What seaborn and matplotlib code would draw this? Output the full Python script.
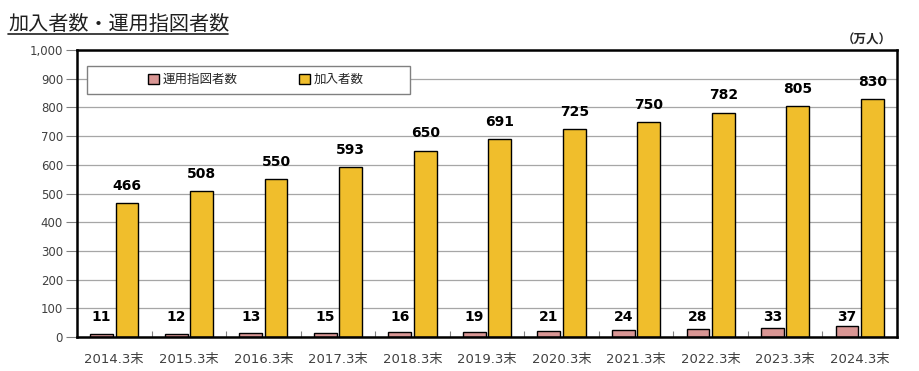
import matplotlib
matplotlib.use("Agg")
import matplotlib.pyplot as plt
import matplotlib.ticker as mticker
from matplotlib.patches import Rectangle
from matplotlib.lines import Line2D
import seaborn as sns
import pandas as pd

periods = ["2014.3末", "2015.3末", "2016.3末", "2017.3末", "2018.3末", "2019.3末",
           "2020.3末", "2021.3末", "2022.3末", "2023.3末", "2024.3末"]
instructed = [11, 12, 13, 15, 16, 19, 21, 24, 28, 33, 37]
members = [466, 508, 550, 593, 650, 691, 725, 750, 782, 805, 830]
series_names = ["運用指図者数", "加入者数"]
colors = ["#D99694", "#F0BE2C"]

df = pd.DataFrame({
    "period": periods * 2,
    "value": instructed + members,
    "series": [series_names[0]] * len(periods) + [series_names[1]] * len(periods),
})

sns.set_style("white")
plt.rcParams["font.family"] = ["DejaVu Sans", "Noto Sans CJK JP"]

fig = plt.figure(figsize=(9.2, 3.71), dpi=100)
ax = fig.add_axes([0.0837, 0.0916, 0.8913, 0.7734])

sns.barplot(data=df, x="period", y="value", hue="series", palette=colors,
            saturation=1, width=0.68, gap=0.1, edgecolor="black", linewidth=1.0,
            legend=False, ax=ax)

ax.set_ylim(0, 1000)
ax.set_xlim(-0.5, len(periods) - 0.5)
ax.yaxis.set_major_locator(mticker.MultipleLocator(100))
ax.yaxis.set_major_formatter(mticker.FuncFormatter(lambda v, p: f"{int(v):,}"))
ax.grid(axis="y", color="#A6A6A6", linewidth=0.9)
ax.set_axisbelow(True)
ax.set_xlabel("")
ax.set_ylabel("")
for s in ax.spines.values():
    s.set_visible(True)
    s.set_color("black")
    s.set_linewidth(1.8)
ax.tick_params(axis="y", left=True, length=8, width=0.8, color="#808080",
               labelsize=8.5, labelcolor="#404040", pad=2)
ax.tick_params(axis="x", bottom=False, labelsize=9.5, labelcolor="#404040", pad=8)

# small category separator ticks
ax.set_xticks([i + 0.5 for i in range(len(periods) - 1)], minor=True)
ax.tick_params(axis="x", which="minor", bottom=True, direction="in", length=4,
               width=0.8, color="#808080")

# value labels
pink_bars = ax.containers[0]
yellow_bars = ax.containers[1]
for bar, v in zip(pink_bars, instructed):
    ax.text(bar.get_x() + bar.get_width() / 2, 70, str(v), ha="center", va="center",
            fontsize=10, fontweight="bold", color="black")
for bar, v in zip(yellow_bars, members):
    ax.text(bar.get_x() + bar.get_width() / 2, v + 60, str(v), ha="center",
            va="center", fontsize=10, fontweight="bold", color="black")

# legend box
lx0, lx1 = -0.36, 3.97
ax.add_patch(Rectangle((lx0, 848), lx1 - lx0, 98, facecolor="white",
                       edgecolor="#808080", linewidth=1.0, zorder=3))
handles = [Rectangle((0, 0), 1, 1, facecolor=c, edgecolor="black", linewidth=1.0)
           for c in colors]
leg = ax.legend(handles, series_names, loc="center", ncol=2,
                bbox_to_anchor=(0.218, 0.897), frameon=False, fontsize=9,
                handlelength=0.9, handleheight=0.9, handletextpad=0.3,
                columnspacing=4.9)
leg.set_zorder(4)

# title and unit
fig.text(0.009, 0.906, "加入者数・運用指図者数", fontsize=14.5, color="#202020",
         family=["Noto Sans CJK JP"], ha="left", va="bottom")
fig.add_artist(Line2D([0.009, 0.248], [0.908, 0.908], color="#202020",
                      linewidth=1.2))
fig.text(0.915, 0.875, "（万人）", fontsize=9, fontweight="bold",
         family=["Noto Sans CJK JP"], ha="left", va="bottom")

fig.savefig("out.png", dpi=100)
